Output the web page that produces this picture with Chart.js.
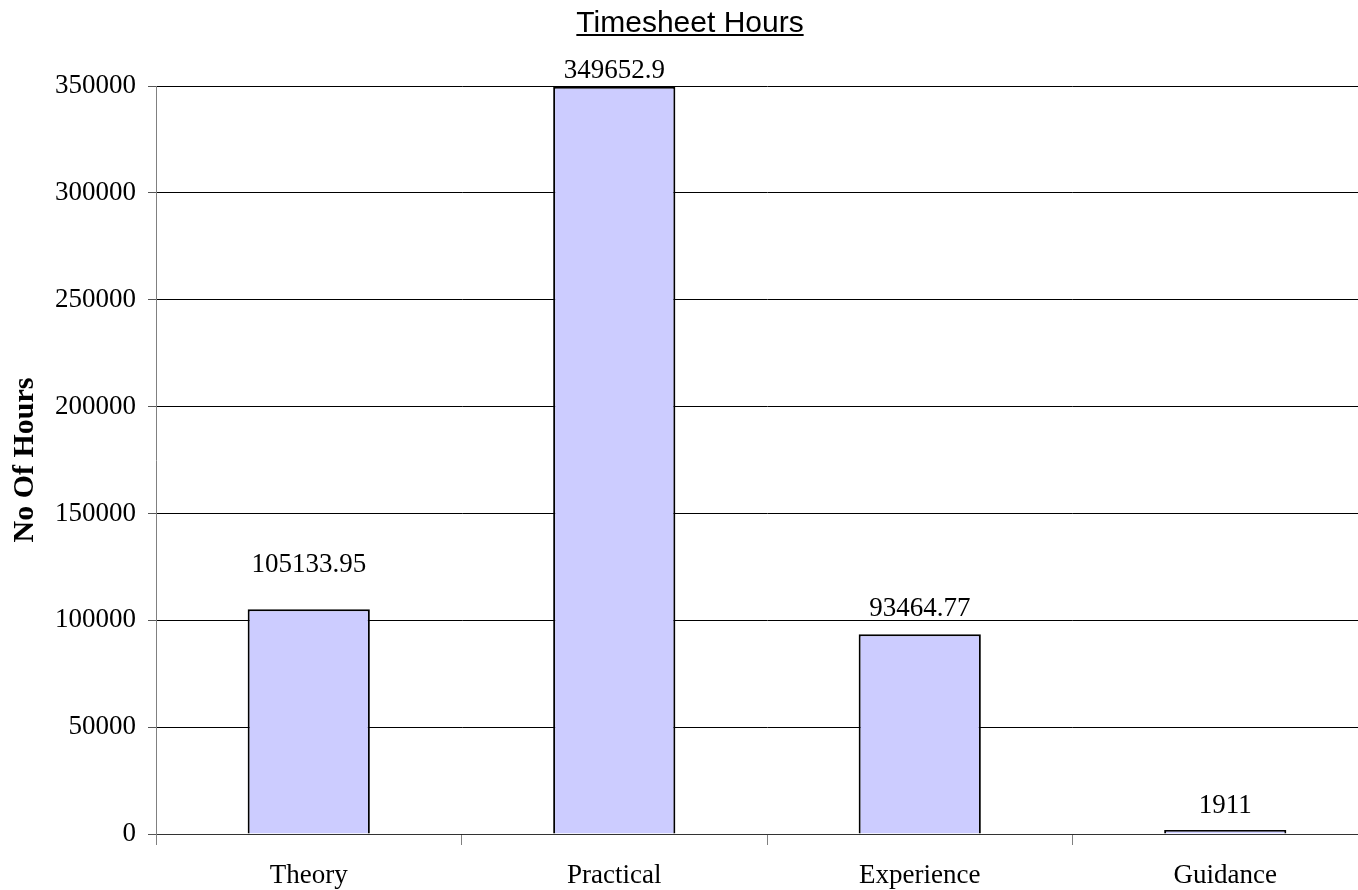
<!DOCTYPE html>
<html>
<head>
<meta charset="utf-8">
<script src="https://cdn.jsdelivr.net/npm/chart.js@4.4.1/dist/chart.umd.min.js"></script>
<style>
  html, body { margin: 0; padding: 0; background: #fff; overflow: hidden; }
  canvas { display: block; }
</style>
</head>
<body>
<canvas id="hoursChart" width="1380" height="890"></canvas>
<script>
const categories = ['Theory', 'Practical', 'Experience', 'Guidance'];
const hours = [105133.95, 349652.9, 93464.77, 1911];
const hourLabels = ['105133.95', '349652.9', '93464.77', '1911'];
const yTicks = [0, 50000, 100000, 150000, 200000, 250000, 300000, 350000];

const serif = '"Liberation Serif", "Times New Roman", serif';

// underlined title drawn by hand, chart.js has no underline option
const titlePlugin = {
    id: 'underlinedTitle',
    afterDraw(chart) {
        const ctx = chart.ctx;
        const text = 'Timesheet Hours';
        ctx.save();
        ctx.font = '30px "Liberation Sans", Arial, sans-serif';
        ctx.fillStyle = '#000';
        ctx.textAlign = 'center';
        ctx.textBaseline = 'alphabetic';
        const cx = chart.width / 2;
        ctx.fillText(text, cx, 32);
        const w = ctx.measureText(text).width;
        ctx.fillRect(cx - w / 2, 34, w, 2);
        ctx.restore();
    }
};

// value labels above each bar
const valueLabels = {
    id: 'valueLabels',
    afterDatasetsDraw(chart, args, opts) {
        const ctx = chart.ctx;
        const meta = chart.getDatasetMeta(0);
        ctx.save();
        ctx.font = '27px ' + serif;
        ctx.fillStyle = '#000';
        ctx.textAlign = 'center';
        ctx.textBaseline = 'alphabetic';
        meta.data.forEach((bar, i) => {
            ctx.fillText(hourLabels[i], bar.x, bar.y - opts.gaps[i]);
        });
        ctx.restore();
    }
};

new Chart(document.getElementById('hoursChart'), {
    type: 'bar',
    data: {
        labels: categories,
        datasets: [{
            data: hours,
            backgroundColor: '#ccccff',
            borderColor: '#000',
            borderWidth: 2,
            barPercentage: 0.4,
            categoryPercentage: 1.0
        }]
    },
    options: {
        responsive: false,
        animation: false,
        layout: { padding: { top: 86, right: 2, left: 0, bottom: 0 } },
        plugins: {
            legend: { display: false },
            tooltip: { enabled: false },
            title: { display: false },
            valueLabels: { gaps: [37, 9, 18, 17] }
        },
        scales: {
            x: {
                grid: {
                    offset: true,
                    drawOnChartArea: false,
                    drawTicks: true,
                    tickLength: 11,
                    color: '#808080'
                },
                border: { color: '#333', width: 1 },
                ticks: {
                    color: '#000',
                    font: { family: serif, size: 27 },
                    padding: 15,
                    maxRotation: 0
                },
                afterFit(scale) { scale.height = 56; }
            },
            y: {
                min: 0,
                max: 350000,
                afterBuildTicks(scale) {
                    scale.ticks = yTicks.map(v => ({ value: v }));
                },
                grid: {
                    color: '#000',
                    tickColor: '#555',
                    tickLength: 8,
                    lineWidth: 1
                },
                border: { color: '#808080', width: 1 },
                ticks: {
                    color: '#000',
                    font: { family: serif, size: 27 },
                    padding: 12,
                    callback: v => String(v)
                },
                title: {
                    display: true,
                    text: 'No Of Hours',
                    color: '#000',
                    font: { family: serif, size: 30, weight: 'bold' },
                    padding: { top: 7, bottom: 0 }
                },
                afterFit(scale) { scale.width = 156; }
            }
        }
    },
    plugins: [titlePlugin, valueLabels]
});
</script>
</body>
</html>
